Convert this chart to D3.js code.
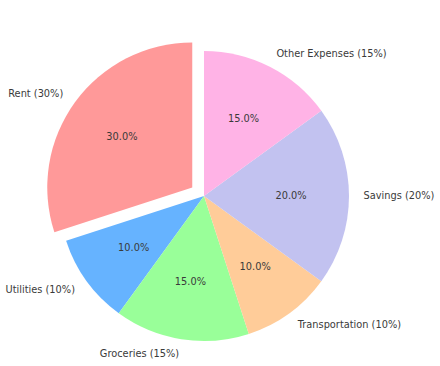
<!DOCTYPE html>
<html>
<head>
<meta charset="utf-8">
<script src="https://cdn.jsdelivr.net/npm/d3@7"></script>
<style>
  html, body { margin: 0; padding: 0; background: #fff; }
  svg { display: block; }
  text { font-family: "DejaVu Sans", sans-serif; font-size: 9.8px; fill: #3a3a3a; }
</style>
</head>
<body>
<svg id="chart" width="440" height="366"></svg>
<script>
const categories = ["Rent", "Utilities", "Groceries", "Transportation", "Savings", "Other Expenses"];
const values = [30, 10, 15, 10, 20, 15];
const colors = ["#ff9999", "#66b3ff", "#99ff99", "#ffcc99", "#c2c2f0", "#ffb3e6"];
const explode = [0.1, 0, 0, 0, 0, 0];

const width = 440, height = 366;
const cx = 204, cy = 196, R = 145;

const data = categories.map((c, i) => ({ name: c, value: values[i], color: colors[i], explode: explode[i] }));
const total = d3.sum(values);

const pie = d3.pie().value(d => d.value).sort(null).startAngle(0).endAngle(-2 * Math.PI);
const arcs = pie(data);
const arc = d3.arc().innerRadius(0).outerRadius(R);

const svg = d3.select("#chart");
const g = svg.append("g").attr("transform", `translate(${cx},${cy})`);

function dir(a) { return [Math.sin(a), -Math.cos(a)]; }

arcs.forEach(a => {
  const mid = (a.startAngle + a.endAngle) / 2;
  const [ux, uy] = dir(mid);
  const off = a.data.explode * R;
  const grp = g.append("g").attr("transform", `translate(${ux * off},${uy * off})`);
  grp.append("path").attr("d", arc(a)).attr("fill", a.data.color);

  const lr = 1.1 * R;
  const lx = ux * lr, ly = uy * lr;
  grp.append("text")
    .attr("x", lx).attr("y", ly)
    .attr("dy", "0.35em")
    .attr("text-anchor", lx > 0 ? "start" : "end")
    .text(`${a.data.name} (${Math.round(a.data.value / total * 100)}%)`);

  const pr = 0.6 * R;
  grp.append("text")
    .attr("x", ux * pr).attr("y", uy * pr)
    .attr("dy", "0.35em")
    .attr("text-anchor", "middle")
    .text(`${(a.data.value / total * 100).toFixed(1)}%`);
});
</script>
</body>
</html>
